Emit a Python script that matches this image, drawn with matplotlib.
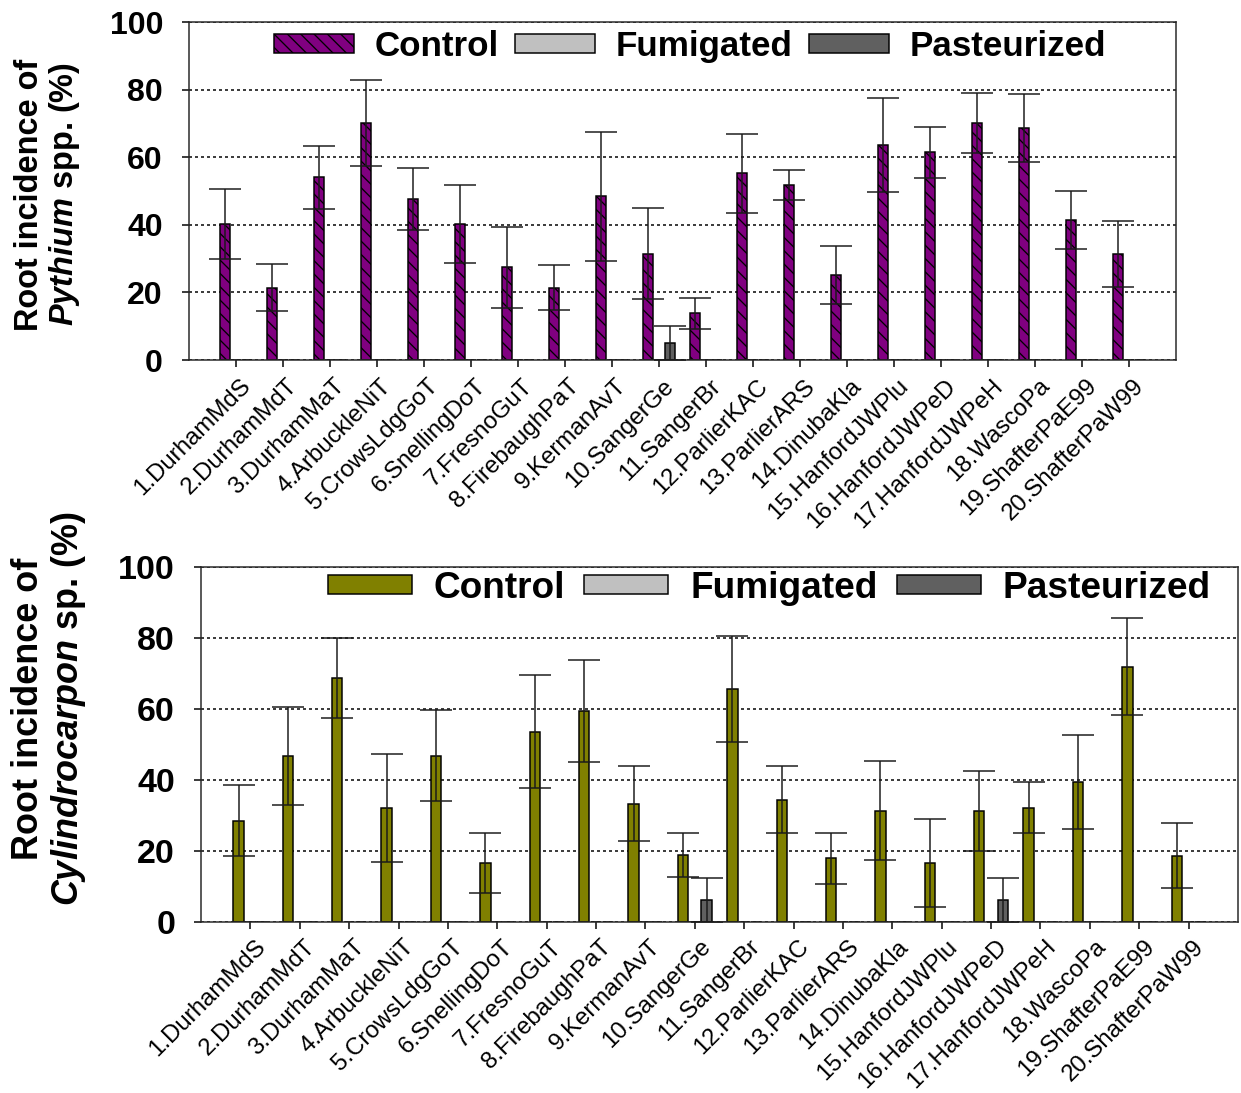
import matplotlib
matplotlib.use('Agg')
import matplotlib.pyplot as plt
import matplotlib.transforms as mtransforms
import numpy as np

DPI = 80
W, H = 1241, 1093


def px(v):
    # pixel size -> points at the figure dpi
    return v * 72.0 / DPI


plt.rcParams['font.family'] = ['Liberation Sans', 'DejaVu Sans']
plt.rcParams['mathtext.fontset'] = 'custom'
plt.rcParams['mathtext.rm'] = 'Liberation Sans:bold'
plt.rcParams['mathtext.bfit'] = 'Liberation Sans:italic:bold'
plt.rcParams['hatch.linewidth'] = px(1.3)

sites = ['1.DurhamMdS', '2.DurhamMdT', '3.DurhamMaT', '4.ArbuckleNiT', '5.CrowsLdgGoT',
         '6.SnellingDoT', '7.FresnoGuT', '8.FirebaughPaT', '9.KermanAvT', '10.SangerGe',
         '11.SangerBr', '12.ParlierKAC', '13.ParlierARS', '14.DinubaKla', '15.HanfordJWPlu',
         '16.HanfordJWPeD', '17.HanfordJWPeH', '18.WascoPa', '19.ShafterPaE99', '20.ShafterPaW99']
treatments = ['Control', 'Fumigated', 'Pasteurized']

# Pythium (top panel)
pyth_control = [40.2, 21.4, 54.0, 70.2, 47.7, 40.2, 27.4, 21.4, 48.5, 31.4,
                13.8, 55.2, 51.7, 25.1, 63.5, 61.4, 70.1, 68.7, 41.4, 31.4]
pyth_control_err = [10.3, 6.9, 9.3, 12.7, 9.2, 11.5, 11.9, 6.6, 19.1, 13.5,
                    4.6, 11.8, 4.5, 8.5, 13.9, 7.5, 9.0, 10.0, 8.5, 9.8]
pyth_fumigated = [0, 0, 0, 0, 0, 0, 0, 0, 0, 0, 0, 0, 0, 0, 0, 0, 0, 0, 0, 0]
pyth_fumigated_err = [0, 0, 0, 0, 0, 0, 0, 0, 0, 0, 0, 0, 0, 0, 0, 0, 0, 0, 0, 0]
pyth_pasteurized = [0, 0, 0, 0, 0, 0, 0, 0, 0, 5.1, 0, 0, 0, 0, 0, 0, 0, 0, 0, 0]
pyth_pasteurized_err = [0, 0, 0, 0, 0, 0, 0, 0, 0, 5.0, 0, 0, 0, 0, 0, 0, 0, 0, 0, 0]

# Cylindrocarpon (bottom panel)
cyl_control = [28.5, 46.8, 68.8, 32.1, 46.8, 16.6, 53.6, 59.4, 33.3, 18.7,
               65.7, 34.4, 17.9, 31.3, 16.6, 31.3, 32.1, 39.3, 71.9, 18.6]
cyl_control_err = [10.0, 13.8, 11.3, 15.2, 12.9, 8.4, 15.9, 14.3, 10.6, 6.2,
                   14.9, 9.4, 7.2, 14.0, 12.4, 11.3, 7.2, 13.2, 13.7, 9.2]
cyl_fumigated = [0, 0, 0, 0, 0, 0, 0, 0, 0, 0, 0, 0, 0, 0, 0, 0, 0, 0, 0, 0]
cyl_fumigated_err = [0, 0, 0, 0, 0, 0, 0, 0, 0, 0, 0, 0, 0, 0, 0, 0, 0, 0, 0, 0]
cyl_pasteurized = [0, 0, 0, 0, 0, 0, 0, 0, 0, 6.2, 0, 0, 0, 0, 0, 6.2, 0, 0, 0, 0]
cyl_pasteurized_err = [0, 0, 0, 0, 0, 0, 0, 0, 0, 6.2, 0, 0, 0, 0, 0, 6.2, 0, 0, 0, 0]

yticks = [0, 20, 40, 60, 80, 100]


def panel(box, series, control_color, hatch, ylabel, sz, label_xy, legend_xy, lab_dx, lab_pad):
    l, t, r, b = box
    ax = fig.add_axes([l / W, 1 - b / H, (r - l) / W, (b - t) / H])
    x = np.arange(len(sites))
    colors = [control_color, '#c0c0c0', '#606060']
    offsets = [0.26, 0.50, 0.74]
    handles = []
    for k, (vals, errs) in enumerate(series):
        bars = ax.bar(x + offsets[k], vals, width=0.21, color=colors[k],
                      edgecolor='black', linewidth=px(1.5),
                      hatch=hatch if k == 0 else None, zorder=2)
        handles.append(bars)
        errs = np.array(errs)
        show = errs > 0
        ax.errorbar((x + offsets[k])[show], np.array(vals)[show], yerr=errs[show],
                    fmt='none', ecolor='#1a1a1a', elinewidth=px(1.5),
                    capsize=px(16), capthick=px(1.5), zorder=3)

    ax.set_xlim(-0.5, 20.5)
    ax.set_ylim(0, 100)
    ax.set_yticks(yticks)
    ax.set_yticklabels([str(v) for v in yticks], fontsize=px(sz['ytick']), fontweight='bold')
    ax.tick_params(axis='y', direction='out', length=px(7), width=px(1.5), pad=px(19),
                   right=False)
    ax.yaxis.grid(True, linestyle=(0, (2, 2)), color='black', linewidth=px(1.5))
    ax.set_axisbelow(True)

    ax.set_xticks(x)
    ax.set_xticklabels(sites, rotation=45, ha='right', va='top', rotation_mode='anchor',
                       fontsize=px(sz['xtick']))
    ax.tick_params(axis='x', which='major', length=0, pad=px(lab_pad))
    ax.set_xticks(np.arange(0.5, 20, 1), minor=True)
    ax.tick_params(axis='x', which='minor', direction='out', length=px(7), width=px(1.5))
    shift = mtransforms.ScaledTranslation(lab_dx / DPI, 0, fig.dpi_scale_trans)
    for lab in ax.get_xticklabels():
        lab.set_transform(lab.get_transform() + shift)

    for s in ax.spines.values():
        s.set_linewidth(px(1.5))
        s.set_color('#262626')

    ax.set_ylabel(ylabel, fontsize=px(sz['ylabel']), fontweight='bold', linespacing=1.1)
    ax.yaxis.set_label_coords(*label_xy)

    fs = sz['legend']
    ax.legend(handles, treatments, ncol=3, frameon=False, loc='center',
              bbox_to_anchor=legend_xy, prop={'weight': 'bold', 'size': px(fs)},
              handlelength=sz['hl'] / fs, handleheight=15 / fs, handletextpad=sz['tp'] / fs,
              columnspacing=sz['cs'] / fs, borderpad=0, borderaxespad=0)
    return ax


fig = plt.figure(figsize=(W / DPI, H / DPI), dpi=DPI)

panel((189, 22, 1176, 360),
      [(pyth_control, pyth_control_err), (pyth_fumigated, pyth_fumigated_err),
       (pyth_pasteurized, pyth_pasteurized_err)],
      '#800080', '\\\\', 'Root incidence of\n$\\mathbfit{Pythium}$ spp. (%)',
      {'ytick': 32, 'xtick': 24, 'ylabel': 32.5, 'legend': 35, 'hl': 80, 'tp': 20, 'cs': 17},
      (-0.108, 0.49), (0.5076, 0.928), 27, 15)

panel((201, 567, 1238, 921.7),
      [(cyl_control, cyl_control_err), (cyl_fumigated, cyl_fumigated_err),
       (cyl_pasteurized, cyl_pasteurized_err)],
      '#808000', None, 'Root incidence of\n$\\mathbfit{Cylindrocarpon}$ sp. (%)',
      {'ytick': 34, 'xtick': 24, 'ylabel': 36, 'legend': 37, 'hl': 84, 'tp': 22, 'cs': 19},
      (-0.109, 0.6), (0.548, 0.94), 29, 14)

fig.savefig('out.png', dpi=DPI)
